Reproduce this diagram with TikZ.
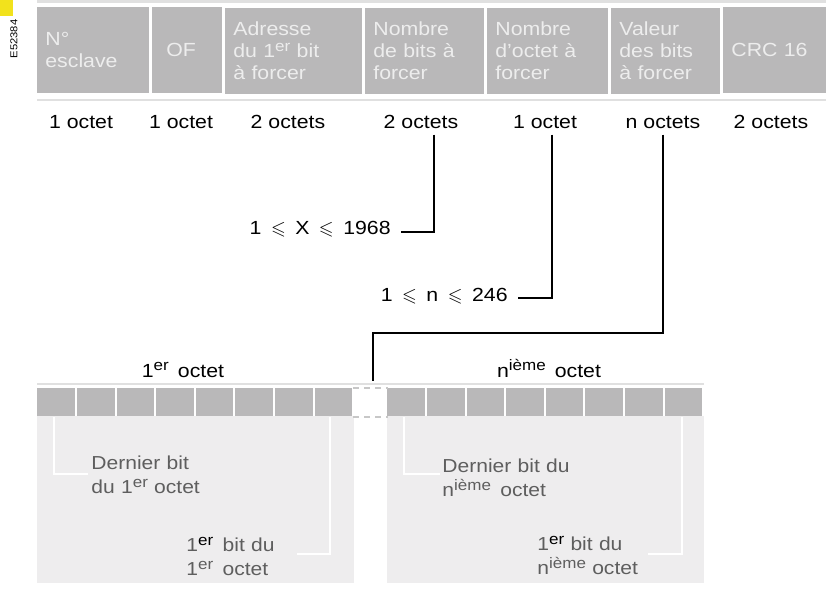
\documentclass[tikz,border=0pt]{standalone}
\usepackage{amssymb,fontspec}
\setmainfont[FakeStretch=1.12]{Liberation Sans}
\usetikzlibrary{positioning,calc}
\definecolor{cellgray}{HTML}{B9B8B9}
\definecolor{panelgray}{HTML}{EEEDEE}
\definecolor{rulegray}{HTML}{E0E0E0}
\definecolor{notegray}{HTML}{5E5E5E}
\definecolor{tagyellow}{HTML}{F2E21C}
\newcommand{\ex}[1]{\raisebox{0.6ex}{\fontsize{7.6}{8}\selectfont #1}}

\begin{document}
\begin{tikzpicture}[x=0.5pt,y=-0.5pt,
  every node/.style={font=\fontsize{9.5}{11}\selectfont},
  hcell/.style={fill=cellgray,text=white!93!black,minimum height=43pt,
    inner xsep=4pt,inner ysep=0pt,align=left,anchor=west},
  size/.style={anchor=base,inner ysep=3pt,font=\fontsize{9.5}{11}\selectfont},
  lim/.style={anchor=base east,inner xsep=5pt,inner ysep=0pt,font=\fontsize{9.5}{11}\selectfont},
  bitcell/.style={fill=cellgray,minimum width=18.8pt,minimum height=14pt,inner sep=0pt,anchor=north west},
  note/.style={text=notegray,align=left,text width=90pt,anchor=base west,inner sep=0pt,
    font=\fontsize{9.4}{12}\selectfont},
  lead/.style={line width=1pt},
  wlead/.style={white,line width=1pt}]
\useasboundingbox (0,0) rectangle (826,594);

% tag
\fill[tagyellow] (0,0) rectangle (13,16);
\node[rotate=90,inner sep=0pt,font=\fontsize{5}{6}\selectfont] (tag) at (14,39) {E52384};

% frame header
\draw[rulegray,line width=1.5pt] (37,1) -- (826,1);
\node[hcell,text width=48pt] (h1) at (37,50) {N°\\esclave};
\node[hcell,text width=27pt] (h2) at (152,50) {\hspace{3pt}OF};
\node[hcell,text width=60.5pt] (h3) at (225,51) {Adresse\\du 1\ex{er} bit\\à forcer};
\node[hcell,text width=51.5pt] (h4) at (365,51) {Nombre\\de bits à\\forcer};
\node[hcell,text width=52.5pt] (h5) at (487,51) {Nombre\\d'octet à\\forcer};
\node[hcell,text width=46.5pt] (h6) at (611,51) {Valeur\\des bits\\à forcer};
\node[hcell,text width=43.5pt] (h7) at (723,50) {CRC 16};
\draw[rulegray,line width=1.3pt] (37,100) -- (826,100);

% sizes
\node[size] (o1) at (81,128) {1 octet};
\node[size] (o2) at (181,128) {1 octet};
\node[size] (o3) at (288,128) {2 octets};
\node[size] (o4) at (421,128) {2 octets};
\node[size] (o5) at (545,128) {1 octet};
\node[size] (o6) at (663,128) {n octets};
\node[size] (o7) at (771,128) {2 octets};

% ranges
\node[lim] (lx) at (401,234) {1\enspace$\leqslant$\enspace X\enspace$\leqslant$\enspace 1968};
\node[lim] (ln) at (518,301) {1\enspace$\leqslant$\enspace n\enspace$\leqslant$\enspace 246};
\draw[lead] ([xshift=6.5pt]o4.south) |- ([yshift=1pt]lx.base east);
\draw[lead] ([xshift=3.5pt]o5.south) |- ([yshift=1.5pt]ln.base east);

% octets
\fill[panelgray] (37,416) rectangle (354,583);
\fill[panelgray] (387,416) rectangle (704,583);
\draw[rulegray,line width=1.2pt] (37,384) -- (704,384);
\foreach \i in {0,...,7} {
  \node[bitcell] (lb\i) at ({37+39.6*\i},388) {};
  \node[bitcell] (rb\i) at ({387+39.6*\i},388) {};
}
\node[minimum width=17pt,minimum height=14pt,inner sep=0pt,anchor=north west] (gap) at (353,388) {};
\draw[black!22,line width=0.9pt,dash pattern=on 3pt off 2.5pt]
  (gap.north west) -- (gap.north east) (gap.south west) -- (gap.south east);
\node[size] (t1) at (183,377) {1\ex{er}\, octet};
\node[size] (tn) at (549,377) {n\ex{ième}\, octet};

\coordinate (kn) at (373,333);
\draw[lead,shorten >=3.5pt] (o6.south) |- (kn) -- (kn |- gap.north);

% bit notes
\coordinate (kl1) at (88,474);
\coordinate (kl2) at (297,554);
\coordinate (kr1) at (440,474);
\coordinate (kr2) at (648,554);
\draw[wlead] ([xshift=-1pt]lb0.south) |- (kl1);
\draw[wlead] ([xshift=-1.5pt]lb7.south) |- (kl2);
\draw[wlead] ([xshift=-1pt]rb0.south) |- (kr1);
\draw[wlead] ([xshift=-0.5pt]rb7.south) |- (kr2);
\node[note] (ld) at (91,469) {Dernier bit\\du 1\ex{er} octet};
\node[note] (lf) at (186,551) {1\textcolor{black}{\ex{er}}\, bit du\\1\ex{er}\, octet};
\node[note] (rd) at (442,472) {Dernier bit du\\n\ex{ième}\, octet};
\node[note] (rf) at (537,550) {1\textcolor{black}{\ex{er}} bit du\\n\ex{ième} octet};
\end{tikzpicture}
\end{document}
